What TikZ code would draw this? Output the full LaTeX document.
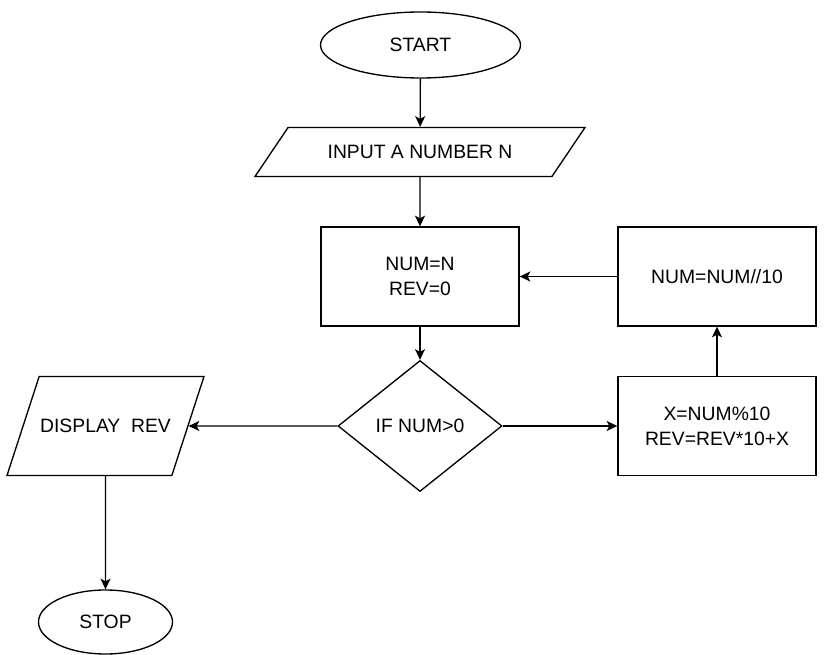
\documentclass[tikz,border=0pt]{standalone}
\usepackage{fontspec}
\setmainfont{Liberation Sans}
\usetikzlibrary{shapes.geometric, arrows.meta}

\begin{document}
\begin{tikzpicture}[x=0.75pt, y=-0.75pt, line width=1pt, >={Stealth[length=8pt, width=7.5pt, inset=2pt]},
    every node/.style={font=\fontsize{14.5}{18.75}\selectfont, align=center, inner sep=0pt},
    terminal/.style={draw, ellipse},
    iobox/.style={draw, trapezium, trapezium stretches body, text height=10.4pt, text depth=0pt},
    process/.style={draw, rectangle, minimum width=148.5pt, minimum height=74.25pt},
    decision/.style={draw, diamond, minimum width=123pt, minimum height=98.25pt}]

        \useasboundingbox (0,0) rectangle (825,655);

        % MAIN COLUMN
        \node[terminal, minimum width=150pt, minimum height=49.5pt] (start) at (420.5, 45) {START};
        \node[iobox, trapezium left angle=56, trapezium right angle=124, inner ysep=13.175pt, minimum width=247.5pt] (input) at (420, 152) {INPUT A NUMBER N};
        \node[process] (init) at (420, 276.5) {NUM=N\\REV=0};
        \node[decision] (check) at (420, 426) {IF NUM>0};

        % LOOP COLUMN
        \node[process] (divide) at (717, 276.5) {NUM=NUM//10};
        \node[process] (digit) at (717, 426) {X=NUM\%10\\REV=REV*10+X};

        % OUTPUT COLUMN
        \node[iobox, trapezium left angle=72, trapezium right angle=108, inner ysep=31.925pt, minimum width=147.75pt] (display) at (105.5, 426) {DISPLAY\ \ REV};
        \node[terminal, minimum width=100.5pt, minimum height=48pt] (stop) at (105.5, 622) {STOP};

        % Arrows
        \draw[->] (start) -- (input);
        \draw[->] (input) -- (init);
        \draw[->] (init) -- (check);
        \draw[->] (check) -- (display);
        \draw[->] (check) -- (digit);
        \draw[->] (digit) -- (divide);
        \draw[->] (divide) -- (init);
        \draw[->] (display) -- (stop);
    \end{tikzpicture}
\end{document}
